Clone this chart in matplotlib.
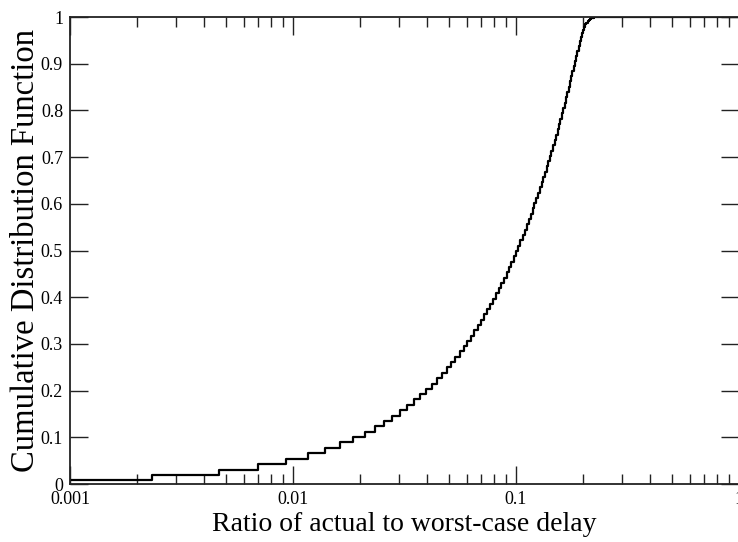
import matplotlib
matplotlib.use("Agg")
import matplotlib.pyplot as plt
import numpy as np
from matplotlib.ticker import LogLocator, FixedLocator, FuncFormatter, NullFormatter

# delays are measured in units of 1/430 of the worst case
unit = 1.0 / 430

# CDF value at each delay step k = 0, 1, 2, ...
cdf = [0.009, 0.019, 0.030, 0.042, 0.054, 0.066, 0.078, 0.089, 0.101, 0.112,
       0.124, 0.135, 0.146, 0.158, 0.170, 0.181, 0.193, 0.204, 0.215, 0.227,
       0.238, 0.250, 0.261, 0.272, 0.284, 0.295, 0.306, 0.318, 0.329, 0.340,
       0.352, 0.363, 0.374, 0.386, 0.397, 0.408, 0.420, 0.431, 0.442, 0.454,
       0.465, 0.476, 0.488, 0.499, 0.510, 0.522, 0.533, 0.544, 0.556, 0.567,
       0.578, 0.590, 0.601, 0.612, 0.624, 0.635, 0.646, 0.658, 0.669, 0.680,
       0.692, 0.703, 0.714, 0.726, 0.737, 0.748, 0.760, 0.771, 0.782, 0.794,
       0.805, 0.816, 0.828, 0.839, 0.850, 0.862, 0.873, 0.884, 0.895, 0.906,
       0.917, 0.928, 0.938, 0.948, 0.957, 0.965, 0.972, 0.978, 0.984, 0.988,
       0.991, 0.994, 0.996, 0.997, 0.998, 0.998, 0.999]

# sparse tail: last delay step seen, and the end of the axis
tail_steps = [180, 430]
tail_cdf = [1.0, 1.0]

steps = np.concatenate([np.arange(len(cdf)), tail_steps])
values = np.concatenate([cdf, tail_cdf])
ratio = steps * unit

plt.rcParams['font.family'] = ['Liberation Serif', 'DejaVu Serif']

fig = plt.figure(figsize=(7.38, 5.42), dpi=100)
ax = fig.add_axes([0.0949, 0.107, 0.9065, 0.8616])

ax.set_xscale('log', nonpositive='clip')
ax.step(ratio, values, where='post', color='black', lw=1.6)

ax.set_xlim(0.001, 1)
ax.set_ylim(0, 1)

ax.xaxis.set_major_locator(FixedLocator([0.001, 0.01, 0.1, 1]))
ax.xaxis.set_major_formatter(FuncFormatter(lambda v, p: '%g' % v))
ax.xaxis.set_minor_locator(LogLocator(base=10, subs=np.arange(2, 10)))
ax.xaxis.set_minor_formatter(NullFormatter())
ax.yaxis.set_major_locator(FixedLocator(np.arange(0, 1.01, 0.1)))
ax.yaxis.set_major_formatter(FuncFormatter(lambda v, p: '%g' % round(v, 1)))

ax.tick_params(which='both', direction='in', top=True, right=True,
               labelsize=13, width=1.0, pad=5, colors='#222222', labelcolor='black')
ax.tick_params(which='major', length=13)
ax.tick_params(which='minor', length=7)
for s in ax.spines.values():
    s.set_linewidth(1.3)
    s.set_color('#222222')

ax.set_xlabel('Ratio of actual to worst-case delay', fontsize=20, labelpad=3)
ax.set_ylabel('Cumulative Distribution Function', fontsize=23.5, labelpad=0)

fig.savefig('out.png', dpi=100)
